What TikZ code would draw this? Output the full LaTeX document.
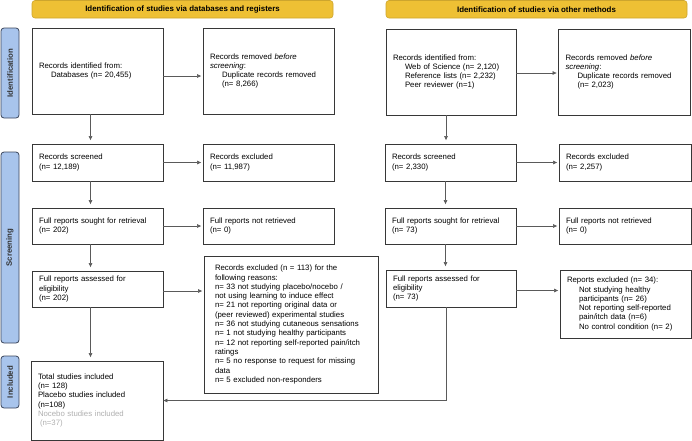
\documentclass[tikz,border=0pt]{standalone}
\usepackage{fontspec}
\setmainfont{Liberation Sans}
\usetikzlibrary{arrows.meta}
\definecolor{hdrfill}{RGB}{238,192,52}
\definecolor{hdrdraw}{RGB}{205,165,45}
\definecolor{sidefill}{RGB}{168,196,236}
\definecolor{sidedraw}{RGB}{60,70,92}
\definecolor{boxc}{RGB}{55,55,55}
\definecolor{linec}{RGB}{90,90,90}
\definecolor{nocebo}{RGB}{175,175,175}
\newcommand\fs{\fontsize{7.8}{9.3}\selectfont}
\newcommand\ind{\hspace*{12pt}}
\tikzset{
  box/.style={draw=boxc, line width=0.8pt, align=left, inner xsep=7pt, inner ysep=0pt, font=\fs, text=black},
  hdr/.style={draw=hdrdraw, fill=hdrfill, rounded corners=3pt, line width=0.6pt, font=\bfseries\fontsize{7.9}{9}\selectfont, inner sep=0pt},
  side/.style={draw=sidedraw, fill=sidefill, rounded corners=3pt, line width=0.8pt, inner sep=0pt},
  sidetext/.style={rotate=90, font=\bfseries\fontsize{7.8}{9}\selectfont, text=black!80},
  conn/.style={draw=linec, line width=0.6pt, -{Triangle[length=4pt,width=3.5pt]}},
  hconn/.style={conn, shorten >=1.5pt},
  vconn/.style={conn, shorten >=3.5pt}
}
\begin{document}
\begin{tikzpicture}[x=1pt,y=-1pt]
\useasboundingbox (0,0) rectangle (692,440);
% headers
\node[hdr, minimum width=301pt, minimum height=17.5pt] (H1) at (182.5,9.25) {Identification of studies via databases and registers};
\node[hdr, minimum width=301pt, minimum height=17.5pt] (H2) at (536.5,9.25) {Identification of studies via other methods};
% side bars
\node[side, minimum width=18pt, minimum height=90pt] (S1) at (10,73) {};
\node[sidetext] (S1t) at (S1.center) {Identification};
\node[side, minimum width=18pt, minimum height=191pt] (S2) at (10,247.5) {};
\node[sidetext] (S2t) at (S2.center) {Screening};
\node[side, minimum width=18pt, minimum height=52pt] (S3) at (10,382) {};
\node[sidetext] (S3t) at (S3.center) {Included};
% left column
\node[box, text width=117pt, minimum height=86pt] (L1) at (97.5,71) {Records identified from:\\\ind Databases (n= 20,455)};
\node[box, text width=117pt, minimum height=86pt] (L1r) at (268.5,71) {Records removed \textit{before}\\\textit{screening}:\\\ind Duplicate records removed\\\ind (n= 8,266)};
\node[box, text width=117pt, minimum height=37pt] (L2) at (97.5,162.5) {Records screened\\(n= 12,189)};
\node[box, text width=117pt, minimum height=37pt] (L2r) at (268.5,162.5) {Records excluded\\(n= 11,987)};
\node[box, text width=117pt, minimum height=36pt] (L3) at (97.5,226) {Full reports sought for retrieval\\(n= 202)};
\node[box, text width=117pt, minimum height=36pt] (L3r) at (268.5,226) {Full reports not retrieved\\(n= 0)};
\node[box, text width=117pt, minimum height=36pt] (L4) at (97.5,289) {Full reports assessed for\\eligibility\\(n= 202)};
\node[box, text width=152pt, inner xsep=11pt, minimum height=137pt] (L4r) at (291,324.5) {Records excluded (n = 113) for the\\following reasons:\\n= 33 not studying placebo/nocebo /\\not using learning to induce effect\\n= 21 not reporting original data or\\(peer reviewed) experimental studies\\n= 36 not studying cutaneous sensations\\n= 1 not studying healthy participants\\n= 12 not reporting self-reported pain/itch\\ratings\\n= 5 no response to request for missing\\data\\n= 5 excluded non-responders};
\node[box, text width=118pt, minimum height=79pt] (L5) at (97,400.5) {Total studies included\\(n= 128)\\Placebo studies included\\(n=108)\\\textcolor{nocebo}{Nocebo studies included}\\\textcolor{nocebo}{\hspace*{2pt}(n=37)}};
% right column
\node[box, text width=116pt, minimum height=86pt] (R1) at (451,72) {Records identified from:\\\ind Web of Science (n= 2,120)\\\ind Reference lists (n= 2,232)\\\ind Peer reviewer (n=1)};
\node[box, text width=118pt, minimum height=86pt] (R1r) at (624.5,72) {Records removed \textit{before}\\\textit{screening}:\\\ind Duplicate records removed\\\ind (n= 2,023)};
\node[box, text width=117pt, minimum height=37pt] (R2) at (450.5,162.5) {Records screened\\(n= 2,330)};
\node[box, text width=118pt, minimum height=37pt] (R2r) at (625,162.5) {Records excluded\\(n= 2,257)};
\node[box, text width=117pt, minimum height=36pt] (R3) at (450.5,226) {Full reports sought for retrieval\\(n= 73)};
\node[box, text width=118pt, minimum height=36pt] (R3r) at (625,226) {Full reports not retrieved\\(n= 0)};
\node[box, text width=116pt, minimum height=37pt] (R4) at (451,288.5) {Full reports assessed for\\eligibility\\(n= 73)};
\node[box, text width=117pt, minimum height=68pt] (R4r) at (625.5,304) {Reports excluded (n= 34):\\\ind Not studying healthy\\\ind participants (n= 26)\\\ind Not reporting self-reported\\\ind pain/itch data (n=6)\\\ind No control condition (n= 2)};
% connectors left
\draw[hconn] ([yshift=-5pt]L1.east) -- ([yshift=-5pt]L1r.west);
\draw[hconn] (L2.east) -- (L2r.west);
\draw[hconn] (L3.east) -- (L3r.west);
\draw[hconn] ([yshift=-2pt]L4.east) -- ([yshift=-2pt]L4.east -| L4r.west);
\draw[vconn] ([xshift=-7pt]L1.south) -- ([xshift=-7pt]L1.south |- L2.north);
\draw[vconn] ([xshift=-7pt]L2.south) -- ([xshift=-7pt]L2.south |- L3.north);
\draw[vconn] ([xshift=-7pt]L3.south) -- ([xshift=-7pt]L3.south |- L4.north);
\draw[vconn] ([xshift=-7pt]L4.south) -- ([xshift=-7pt]L4.south |- L5.north);
% connectors right
\draw[hconn] ([yshift=-1pt]R1.east) -- ([yshift=-1pt]R1r.west);
\draw[hconn] (R2.east) -- (R2.east -| R2r.west);
\draw[hconn] (R3.east) -- (R3.east -| R3r.west);
\draw[hconn] ([yshift=-2pt]R4.east) -- ([yshift=-2pt]R4.east -| R4r.west);
\draw[vconn] ([xshift=-5pt]R1.south) -- ([xshift=-5pt]R1.south |- R2.north);
\draw[vconn] ([xshift=-5pt]R2.south) -- ([xshift=-5pt]R2.south |- R3.north);
\draw[vconn] ([xshift=-5pt]R3.south) -- ([xshift=-5pt]R3.south |- R4.north);
\draw[conn] ([xshift=-5pt]R4.south) |- (L5.east);
\end{tikzpicture}
\end{document}
